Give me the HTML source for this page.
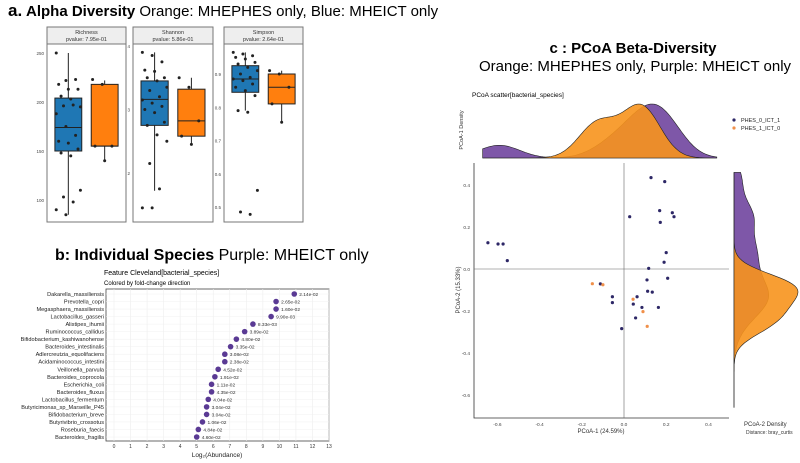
<!DOCTYPE html>
<html><head><meta charset="utf-8"><style>
body{margin:0;background:#fff;}
svg{display:block;font-family:"Liberation Sans",sans-serif;}
</style></head><body>
<svg id="fig" width="800" height="463" viewBox="0 0 800 463">
<g>
<text x="8" y="16" font-size="17" font-weight="bold">a.</text>
<text x="26" y="16" font-size="15"><tspan font-weight="bold">Alpha Diversity</tspan> Orange: MHEPHES only, Blue: MHEICT only</text>
</g>
<g id="pa"></g>
<g>
<text x="55" y="260" font-size="16"><tspan font-weight="bold">b: Individual Species</tspan> Purple: MHEICT only</text>
<text x="104" y="275" font-size="7">Feature Cleveland[bacterial_species]</text>
<text x="104" y="285" font-size="6">Colored by fold-change direction</text>
</g>
<g id="pb"></g>
<g>
<text x="633" y="53" font-size="15" font-weight="bold" text-anchor="middle">c : PCoA Beta-Diversity</text>
<text x="635" y="71" font-size="15" text-anchor="middle">Orange: MHEPHES only, Purple: MHEICT only</text>
<text x="472" y="97" font-size="6.5">PCoA scatter[bacterial_species]</text>
</g>
<g id="pc"></g>
</svg>
<script>
const NS="http://www.w3.org/2000/svg";
function mk(parent,tag,attrs,txt){const e=document.createElementNS(NS,tag);for(const k in attrs)e.setAttribute(k,attrs[k]);if(txt!==undefined)e.textContent=txt;parent.appendChild(e);return e;}

// ---------- Panel a data ----------
const facetNames=["Richness","Shannon","Simpson"];
const facetPvals=["pvalue: 7.95e-01","pvalue: 5.86e-01","pvalue: 2.64e-01"];
const richBlue=[250,222,223,218,213,213,206,203,195,196,197,188,175,166,160,158,152,148,145,110,103,98,90,85];
const richOrange=[223,218,155,155,140];
const shanBlue=[3.9,3.85,3.75,3.62,3.6,3.5,3.5,3.45,3.35,3.3,3.2,3.15,3.1,3.05,3.0,2.95,2.8,2.75,2.6,2.5,2.15,1.75,1.45,1.45];
const shanOrange=[3.5,3.35,2.82,2.58,2.45];
const simpBlue=[0.965,0.96,0.955,0.95,0.945,0.935,0.93,0.92,0.91,0.9,0.89,0.885,0.88,0.87,0.86,0.85,0.835,0.79,0.785,0.55,0.485,0.478];
const simpOrange=[0.91,0.90,0.86,0.81,0.755];
// box stats: [lowWhisker,q1,median,q3,highWhisker]
const richBlueBox=[85,150,174,204,250];
const richOrangeBox=[140,155,155,218,222];
const shanBlueBox=[1.72,2.75,3.16,3.45,3.9];
const shanOrangeBox=[2.45,2.58,2.82,3.32,3.5];
const simpBlueBox=[0.79,0.845,0.885,0.925,0.965];
const simpOrangeBox=[0.755,0.81,0.86,0.90,0.91];
const richTicks=[100,150,200,250];
const shanTicks=[2,3,4];
const simpTicks=[0.5,0.6,0.7,0.8,0.9];

const facets=[
 {x0:47,x1:126,v0:250,p0:53,v1:100,p1:200,ticks:richTicks,fmt:v=>v,b:richBlue,o:richOrange,bb:richBlueBox,ob:richOrangeBox},
 {x0:133,x1:213,v0:4,p0:46,v1:2,p1:173,ticks:shanTicks,fmt:v=>v,b:shanBlue,o:shanOrange,bb:shanBlueBox,ob:shanOrangeBox},
 {x0:224,x1:303,v0:0.9,p0:74,v1:0.5,p1:207,ticks:simpTicks,fmt:v=>v.toFixed(1),b:simpBlue,o:simpOrange,bb:simpBlueBox,ob:simpOrangeBox}
];
const pa=document.getElementById('pa');
facets.forEach((f,i)=>{
 const y=v=>f.p0+(v-f.v0)*(f.p1-f.p0)/(f.v1-f.v0);
 const g=mk(pa,'g',{});
 
 
 const hd=mk(g,'rect',{x:f.x0,y:27,width:f.x1-f.x0,height:17,fill:'#eeeeee',stroke:'#777','stroke-width':1});
 
 
 mk(g,'text',{x:(f.x0+f.x1)/2,y:34,'font-size':5.5,'text-anchor':'middle',fill:'#333'},facetNames[i]);
 mk(g,'text',{x:(f.x0+f.x1)/2,y:41,'font-size':5.5,'text-anchor':'middle',fill:'#333'},facetPvals[i]);
 const fr=mk(g,'rect',{x:f.x0,y:44,width:f.x1-f.x0,height:178,fill:'#fff',stroke:'#777','stroke-width':1});
 
 
 f.ticks.forEach(t=>{
  const tl=mk(g,'text',{x:f.x0-3,y:y(t)+2,'font-size':4.5,'text-anchor':'end',fill:'#444'},f.fmt(t));
  
  
 });
 const w=f.x1-f.x0;
 [[f.bb,f.b,f.x0+w*0.1,'#1f77b4'],[f.ob,f.o,f.x0+w*0.56,'#ff7f0e']].forEach(([bx,pts,bxL,col],k)=>{
  const bw=w*0.34, cx=bxL+bw/2;
  const wl=mk(g,'line',{x1:cx,x2:cx,y1:y(bx[0]),y2:y(bx[4]),stroke:'#222','stroke-width':1});
  
  
  const r=mk(g,'rect',{x:bxL,y:y(bx[3]),width:bw,height:y(bx[1])-y(bx[3]),fill:col,stroke:'#222','stroke-width':1});
  
  
  const md=mk(g,'line',{x1:bxL,x2:bxL+bw,y1:y(bx[2]),y2:y(bx[2]),stroke:'#222','stroke-width':1});
  
  
  pts.forEach((v,j)=>{
   const jit=((j*37)%11-5)/5*bw*0.45;
   const c=mk(g,'circle',{cx:cx+jit,cy:y(v),r:1.5,fill:'#222'});
   
   
  });
 });
});

// ---------- Panel b data ----------
const species=["Dakarella_massiliensis","Prevotella_copri","Megasphaera_massiliensis","Lactobacillus_gasseri","Alistipes_ihumii","Ruminococcus_callidus","Bifidobacterium_kashiwanohense","Bacteroides_intestinalis","Adlercreutzia_equolifaciens","Acidaminococcus_intestini","Veillonella_parvula","Bacteroides_coprocola","Escherichia_coli","Bacteroides_fluxus","Lactobacillus_fermentum","Butyricimonas_sp_Marseille_P45","Bifidobacterium_breve","Butyrivibrio_crossotus","Roseburia_faecis","Bacteroides_fragilis"];
const abundance=[10.9,9.8,9.8,9.5,8.4,7.9,7.4,7.05,6.7,6.7,6.3,6.1,5.9,5.9,5.7,5.6,5.6,5.35,5.1,5.0];
const pvalLabels=["2.14e-02","2.65e-02","1.60e-02","9.90e-03","8.33e-03","3.89e-02","4.80e-02","3.35e-02","3.08e-02","2.38e-02","4.52e-02","1.91e-02","1.11e-02","4.35e-02","4.04e-02","3.04e-02","3.04e-02","1.06e-02","4.84e-02","4.60e-02"];
const xTicksB=[0,1,2,3,4,5,6,7,8,9,10,11,12,13];
const pb=document.getElementById('pb');
const bx=v=>114+v*(329-114)/13;
const by=i=>294+i*(437-294)/19;
const fb=mk(pb,'rect',{x:106,y:289,width:223,height:152,fill:'#fff',stroke:'#444','stroke-width':0.8});


xTicksB.forEach(t=>{
 const gl=mk(pb,'line',{x1:bx(t),x2:bx(t),y1:289,y2:441,stroke:'#eee','stroke-width':0.6});
 
 
 const tl=mk(pb,'text',{x:bx(t),y:448,'font-size':5,'text-anchor':'middle',fill:'#333'},t);
 
 
});
species.forEach((s,i)=>{
 const hl=mk(pb,'line',{x1:106,x2:329,y1:by(i),y2:by(i),stroke:'#f0f0f0','stroke-width':0.5});
 
 
 const lb=mk(pb,'text',{x:104,y:by(i)+2,'font-size':5.6,'text-anchor':'end',fill:'#222'},s);
 
 
 const c=mk(pb,'circle',{cx:bx(abundance[i]),cy:by(i),r:2.8,fill:'#5a3a94'});
 
 
 const pl=mk(pb,'text',{x:bx(abundance[i])+5,y:by(i)+2,'font-size':4.8,fill:'#333'},pvalLabels[i]);
 
 
});
const xt=mk(pb,'text',{x:217,y:457,'font-size':6.5,'text-anchor':'middle',fill:'#222'},'Log\u2082(Abundance)');



// ---------- Panel c data ----------
const purpleX=[0.128,0.193,0.027,0.169,0.229,0.237,0.172,-0.645,-0.597,-0.573,-0.553,0.2,0.19,0.117,0.207,0.109,-0.112,0.112,0.134,-0.055,-0.055,0.062,0.044,0.085,0.163,0.055,-0.011];
const purpleY=[0.435,0.416,0.249,0.278,0.268,0.249,0.222,0.125,0.119,0.119,0.04,0.078,0.032,0.003,-0.044,-0.052,-0.071,-0.106,-0.11,-0.132,-0.16,-0.132,-0.167,-0.183,-0.183,-0.233,-0.284];
const orangeX=[-0.15,-0.1,0.043,0.09,0.11];
const orangeY=[-0.07,-0.075,-0.144,-0.203,-0.273];
const xTicksC=[-0.6,-0.4,-0.2,0.0,0.2,0.4];
const yTicksC=[-0.6,-0.4,-0.2,0.0,0.2,0.4];
const pc=document.getElementById('pc');
const sx=v=>624+v*211, sy=v=>269-v*210;
const PUR='#7e57a8', ORA='#f7941d';
// axes
const ax=mk(pc,'path',{d:'M474 163 V418 H729',fill:'none',stroke:'#333','stroke-width':0.8});


const z1=mk(pc,'line',{x1:474,x2:729,y1:sy(0),y2:sy(0),stroke:'#666','stroke-width':0.6});


const z2=mk(pc,'line',{x1:sx(0),x2:sx(0),y1:163,y2:418,stroke:'#666','stroke-width':0.6});


xTicksC.forEach(t=>{
 const tl=mk(pc,'text',{x:sx(t),y:426,'font-size':4.8,'text-anchor':'middle',fill:'#444'},t.toFixed(1));
 
 
});
yTicksC.forEach(t=>{
 const tl=mk(pc,'text',{x:470,y:sy(t)+2,'font-size':4.8,'text-anchor':'end',fill:'#444'},t.toFixed(1));
 
 
});
const xa=mk(pc,'text',{x:601,y:433,'font-size':6,'text-anchor':'middle',fill:'#333'},'PCoA-1 (24.59%)');


const ya=mk(pc,'text',{x:0,y:0,'font-size':6,'text-anchor':'middle',fill:'#333',transform:'translate(460,290) rotate(-90)'},'PCoA-2 (15.33%)');


const yd=mk(pc,'text',{x:0,y:0,'font-size':5.5,'text-anchor':'middle',fill:'#333',transform:'translate(463,130) rotate(-90)'},'PCoA-1 Density');


const rd=mk(pc,'text',{x:744,y:426,'font-size':6,fill:'#333'},'PCoA-2 Density');


const dn=mk(pc,'text',{x:746,y:434,'font-size':5,fill:'#333'},'Distance: bray_curtis');



function kde(arr,bw,v){let s=0;arr.forEach(a=>{const z=(v-a)/bw;s+=Math.exp(-0.5*z*z);});return s/(arr.length*bw*Math.sqrt(2*Math.PI));}
// top density
const topLo=-0.67, topHi=0.44, N=120;
function topPath(arr,bw){
 let mx=0;const vals=[];
 for(let i=0;i<=N;i++){const v=topLo+(topHi-topLo)*i/N;const d=kde(arr,bw,v);vals.push([v,d]);if(d>mx)mx=d;}
 let d='M'+sx(topLo)+' 158';
 vals.forEach(([v,dd])=>{d+=' L'+sx(v).toFixed(1)+' '+(158-dd/mx*54).toFixed(1);});
 return d+' L'+sx(topHi)+' 158 Z';
}
const tp=mk(pc,'path',{d:topPath(purpleX,0.09),fill:PUR,stroke:'#222','stroke-width':0.6});


const to=mk(pc,'path',{d:topPath(orangeX,0.085),fill:ORA,'fill-opacity':0.9,stroke:'#222','stroke-width':0.6});


// right density (shared scale)
const rLo=-0.66, rHi=0.46;
let rmax=0;
for(let i=0;i<=N;i++){const v=rLo+(rHi-rLo)*i/N;rmax=Math.max(rmax,kde(purpleY,0.07,v),kde(orangeY,0.06,v));}
function rightPath(arr,bw){
 let d='M734 '+sy(rHi);
 for(let i=0;i<=N;i++){const v=rHi-(rHi-rLo)*i/N;d+=' L'+(734+kde(arr,bw,v)/rmax*64).toFixed(1)+' '+sy(v).toFixed(1);}
 return d+' L734 '+sy(rLo)+' Z';
}
const rp=mk(pc,'path',{d:rightPath(purpleY,0.07),fill:PUR,stroke:'#222','stroke-width':0.6});


const ro=mk(pc,'path',{d:rightPath(orangeY,0.06),fill:ORA,'fill-opacity':0.9,stroke:'#222','stroke-width':0.6});


// points
purpleX.forEach((v,i)=>{
 const c=mk(pc,'circle',{cx:sx(v),cy:sy(purpleY[i]),r:1.6,fill:'#2d2766'});
 
 
});
orangeX.forEach((v,i)=>{
 const c=mk(pc,'circle',{cx:sx(v),cy:sy(orangeY[i]),r:1.6,fill:'#f0904a'});
 
 
});
// legend
const lg=mk(pc,'g',{});


const l1=mk(lg,'circle',{cx:734,cy:120,r:1.6,fill:'#2d2766'});


mk(lg,'text',{x:741,y:122,'font-size':5.5,fill:'#222'},'PHES_0_ICT_1');
const l2=mk(lg,'circle',{cx:734,cy:128,r:1.6,fill:'#f0904a'});


mk(lg,'text',{x:741,y:130,'font-size':5.5,fill:'#222'},'PHES_1_ICT_0');
</script>
</body></html>
